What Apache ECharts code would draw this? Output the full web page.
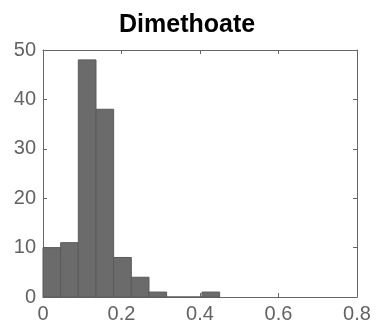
<!DOCTYPE html>
<html>
<head>
<meta charset="utf-8">
<script src="https://cdn.jsdelivr.net/npm/echarts@6/dist/echarts.min.js"></script>
<style>
  html, body { margin: 0; padding: 0; background: #fff; }
  #chart { width: 376px; height: 325px; }
</style>
</head>
<body>
<div id="chart"></div>
<script>
// Histogram of Dimethoate values: bin edges (left/right) and counts per bin
const binStarts = [0, 0.045, 0.09, 0.135, 0.18, 0.225, 0.27, 0.315, 0.36, 0.405];
const binEnds   = [0.045, 0.09, 0.135, 0.18, 0.225, 0.27, 0.315, 0.36, 0.405, 0.45];
const counts    = [10, 11, 48, 38, 8, 4, 1, 0, 0, 1];
const xTicks = [0, 0.2, 0.4, 0.6, 0.8];
const yTicks = [0, 10, 20, 30, 40, 50];

const axisColor = '#666666';
const labelFont = { fontSize: 20, color: '#636363', fontFamily: 'Liberation Sans, Arial, sans-serif' };

const chart = echarts.init(document.getElementById('chart'), null, { renderer: 'canvas' });

const data = counts.map((c, i) => [binStarts[i], binEnds[i], c]);

chart.setOption({
  animation: false,
  title: {
    text: 'Dimethoate',
    left: 114,
    top: 8,
    textStyle: { fontSize: 25, fontWeight: 'bold', color: '#000', fontFamily: 'Liberation Sans, Arial, sans-serif' }
  },
  grid: { left: 43, right: 19, top: 50, bottom: 28, show: false },
  xAxis: [{
    type: 'value', min: xTicks[0], max: xTicks[xTicks.length - 1], interval: 0.2,
    axisLine: { show: true, lineStyle: { color: axisColor, width: 1 } },
    axisTick: { show: true, inside: true, length: 4, lineStyle: { color: axisColor } },
    axisLabel: Object.assign({ margin: 7, formatter: v => String(+v.toFixed(1)) }, labelFont),
    splitLine: { show: false }
  }, {
    type: 'value', position: 'top', min: xTicks[0], max: xTicks[xTicks.length - 1], interval: 0.2,
    axisLine: { show: true, onZero: false, lineStyle: { color: axisColor, width: 1 } },
    axisTick: { show: true, inside: true, length: 4, lineStyle: { color: axisColor } },
    axisLabel: { show: false }, splitLine: { show: false }
  }],
  yAxis: [{
    type: 'value', min: yTicks[0], max: yTicks[yTicks.length - 1], interval: 10,
    axisLine: { show: true, lineStyle: { color: axisColor, width: 1 } },
    axisTick: { show: true, inside: true, length: 4, lineStyle: { color: axisColor } },
    axisLabel: Object.assign({ margin: 7 }, labelFont),
    splitLine: { show: false }
  }, {
    type: 'value', position: 'right', min: yTicks[0], max: yTicks[yTicks.length - 1], interval: 10,
    axisLine: { show: true, onZero: false, lineStyle: { color: axisColor, width: 1 } },
    axisTick: { show: true, inside: true, length: 4, lineStyle: { color: axisColor } },
    axisLabel: { show: false }, splitLine: { show: false }
  }],
  series: [{
    type: 'custom',
    xAxisIndex: 0, yAxisIndex: 0,
    data: data,
    renderItem: function (params, api) {
      const p0 = api.coord([api.value(0), api.value(2)]);
      const p1 = api.coord([api.value(1), 0]);
      return {
        type: 'rect',
        shape: { x: p0[0], y: p0[1], width: p1[0] - p0[0], height: p1[1] - p0[1] },
        style: { fill: '#6b6b6b', stroke: '#5a5a5a', lineWidth: 1 }
      };
    }
  }]
});
</script>
</body>
</html>
